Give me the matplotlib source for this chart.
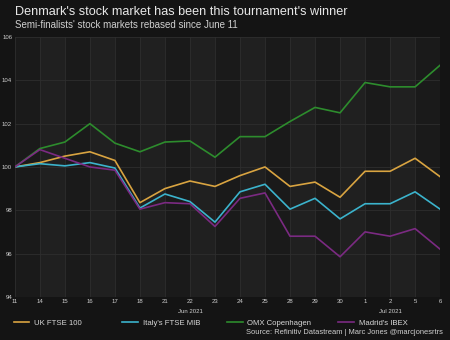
import matplotlib.pyplot as plt

plt.rcParams['font.family'] = ['Liberation Sans', 'DejaVu Sans']

days = ["11", "14", "15", "16", "17", "18", "21", "22", "23", "24", "25",
        "28", "29", "30", "1", "2", "5", "6"]
ftse = [100.0, 100.2, 100.5, 100.7, 100.3, 98.35, 99.0, 99.35, 99.1, 99.6, 100.0,
        99.1, 99.3, 98.6, 99.8, 99.8, 100.4, 99.55]
mib = [100.0, 100.15, 100.05, 100.2, 99.95, 98.1, 98.75, 98.4, 97.45, 98.85, 99.2,
       98.05, 98.55, 97.6, 98.3, 98.3, 98.85, 98.05]
omx = [100.0, 100.85, 101.15, 102.0, 101.1, 100.7, 101.15, 101.2, 100.45, 101.4, 101.4,
       102.1, 102.75, 102.5, 103.9, 103.7, 103.7, 104.7]
ibex = [100.0, 100.8, 100.4, 100.0, 99.85, 98.05, 98.35, 98.3, 97.25, 98.55, 98.8,
        96.8, 96.8, 95.85, 97.0, 96.8, 97.15, 96.2]

series = [
    ("UK FTSE 100", ftse, "#d9a441"),
    ("Italy's FTSE MIB", mib, "#3bb3cc"),
    ("OMX Copenhagen", omx, "#2d8c2d"),
    ("Madrid's IBEX", ibex, "#7b2a82"),
]

bg = "#141414"
fig = plt.figure(figsize=(4.5, 3.4), dpi=100, facecolor=bg)
ax = fig.add_axes([0.033, 0.127, 0.945, 0.764], facecolor="#1a1a1a")

x = list(range(len(days)))

# alternating column shading
for i in range(1, len(days) - 1, 2):
    ax.axvspan(i, i + 1, color="#202020", lw=0, zorder=0)

lines = []
for name, vals, col in series:
    ln, = ax.plot(x, vals, color=col, lw=1.2, label=name, zorder=3)
    lines.append(ln)

ax.set_xlim(0, len(days) - 1)
ax.set_ylim(94, 106)
ax.set_yticks(range(94, 107, 2))
ax.set_xticks(x)
ax.set_xticklabels(days)
ax.grid(True, color="#2e2e2e", lw=0.6, zorder=1)
ax.set_axisbelow(True)
for s in ax.spines.values():
    s.set_visible(False)
ax.tick_params(length=0, colors="#cfcfcf", labelsize=4.3, pad=1.5)
ax.tick_params(axis="y", pad=2)

# month labels under the axis
for pos, month in [(7, "Jun 2021"), (15, "Jul 2021")]:
    ax.text(pos, -0.045, month, transform=ax.get_xaxis_transform(),
            ha="center", va="top", color="#cfcfcf", fontsize=4.3)

fig.text(0.033, 0.964, "Denmark's stock market has been this tournament's winner",
         color="#e8e8e8", fontsize=9.1, ha="left", va="center")
fig.text(0.033, 0.925, "Semi-finalists' stock markets rebased since June 11",
         color="#d0d0d0", fontsize=7.0, ha="left", va="center")

# one legend entry per slot along the bottom
for ln, x0 in zip(lines, [0.03, 0.272, 0.505, 0.752]):
    leg = fig.legend(handles=[ln], loc="center left", bbox_to_anchor=(x0, 0.05),
                     frameon=False, fontsize=5.6, labelcolor="#d8d8d8",
                     handlelength=2.0, handletextpad=0.6, borderpad=0, borderaxespad=0)

fig.text(0.984, 0.022, "Source: Refinitiv Datastream | Marc Jones @marcjonesrtrs",
         color="#d0d0d0", fontsize=5.45, ha="right", va="center")

fig.savefig("out.png", dpi=100, facecolor=bg)
